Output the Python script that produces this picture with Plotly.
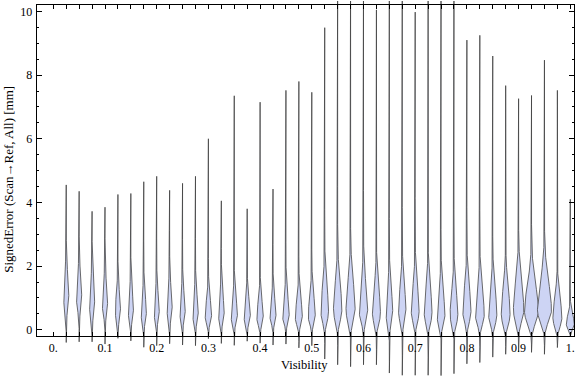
import numpy as np
import plotly.graph_objects as go

# ---------------- data ----------------
visibility = [0.025, 0.05, 0.075, 0.1, 0.125, 0.15, 0.175, 0.2, 0.225, 0.25,
              0.275, 0.3, 0.325, 0.35, 0.375, 0.4, 0.425, 0.45, 0.475, 0.5,
              0.525, 0.55, 0.575, 0.6, 0.625, 0.65, 0.675, 0.7, 0.725, 0.75,
              0.775, 0.8, 0.825, 0.85, 0.875, 0.9, 0.925, 0.95, 0.975, 1.0]

err_max = [4.55, 4.35, 3.72, 3.85, 4.25, 4.28, 4.65, 4.82, 4.38, 4.6,
           4.82, 6.0, 4.05, 7.35, 3.8, 7.15, 4.42, 7.52, 7.8, 7.46,
           9.49, 11.0, 11.0, 11.0, 10.05, 11.0, 11.0, 9.98, 11.0, 11.0,
           11.0, 9.1, 9.25, 8.6, 7.67, 7.26, 7.36, 8.47, 7.52, 4.1]

err_min = [-0.40, -0.38, -0.38, -0.45, -0.27, -0.35, -0.55, -0.50, -0.44, -0.48,
           -0.50, -0.28, -0.43, -0.49, -0.36, -0.42, -0.48, -0.45, -0.57, -0.50,
           -0.92, -1.10, -1.16, -1.10, -1.10, -1.36, -1.43, -1.43, -1.43, -1.44,
           -1.38, -1.07, -1.03, -0.86, -0.77, -0.70, -0.71, -0.77, -0.56, -0.19]

err_mode = [1.0, 0.95, 0.75, 0.75, 0.55, 0.55, 0.45, 0.5, 0.6, 0.5,
            0.45, 0.4, 0.45, 0.4, 0.4, 0.35, 0.4, 0.4, 0.35, 0.4,
            0.55, 0.6, 0.6, 0.55, 0.5, 0.5, 0.55, 0.55, 0.5, 0.4,
            0.45, 0.55, 0.45, 0.45, 0.45, 0.6, 0.55, 0.6, 0.35, 0.17]

peak_density = [2.6, 2.6, 2.6, 2.6, 2.6, 2.6, 2.6, 2.6, 2.6, 2.7,
                2.8, 3.2, 2.9, 3.2, 3.2, 3.2, 3.0, 3.3, 3.5, 3.5,
                3.8, 4.2, 4.6, 4.2, 4.0, 3.4, 3.7, 3.9, 3.9, 3.9,
                3.9, 4.1, 4.4, 4.1, 4.4, 5.2, 7.0, 7.0, 4.5, 4.0]

spread_low = [0.35, 0.33, 0.3, 0.3, 0.25, 0.25, 0.22, 0.22, 0.25, 0.22,
              0.22, 0.2, 0.22, 0.2, 0.2, 0.2, 0.2, 0.2, 0.2, 0.22,
              0.3, 0.32, 0.33, 0.3, 0.3, 0.3, 0.3, 0.3, 0.3, 0.25,
              0.28, 0.3, 0.28, 0.28, 0.28, 0.33, 0.33, 0.33, 0.25, 0.15]

spread_high = [0.7, 0.7, 0.65, 0.65, 0.6, 0.6, 0.6, 0.6, 0.65, 0.6,
               0.6, 0.55, 0.6, 0.55, 0.55, 0.55, 0.55, 0.6, 0.6, 0.65,
               0.8, 0.85, 0.9, 0.85, 0.8, 0.75, 0.8, 0.8, 0.8, 0.75,
               0.75, 0.8, 0.8, 0.8, 0.85, 0.9, 0.85, 0.9, 0.65, 0.3]

x_tick_vals = [0.0, 0.1, 0.2, 0.3, 0.4, 0.5, 0.6, 0.7, 0.8, 0.9, 1.0]
x_tick_text = ["0.", "0.1", "0.2", "0.3", "0.4", "0.5", "0.6", "0.7", "0.8", "0.9", "1."]
y_tick_vals = [0, 2, 4, 6, 8, 10]

# ---------------- styling ----------------
W, H = 576, 377
PX_PER_X = 517.0          # pixels per unit visibility
X0_PX = 53.3              # pixel of visibility 0
Y0_PX = 330.5             # pixel of error 0
PX_PER_Y = 32.0
FILL = "#cdd4f4"
EDGE = "rgba(60,60,60,0.75)"
FONT = "Liberation Serif"

fig = go.Figure()

for i, c in enumerate(visibility):
    lo, hi, m = err_min[i], err_max[i], err_mode[i]
    ys = np.unique(np.concatenate([np.linspace(lo, hi, 500),
                                   np.linspace(max(lo, m - 2), min(hi, m + 4), 400)]))
    s = np.where(ys < m, spread_low[i], spread_high[i])
    hw = peak_density[i] * np.exp(-0.5 * ((ys - m) / s) ** 2) / PX_PER_X
    xs = np.concatenate([c + hw, (c - hw)[::-1]])
    yy = np.concatenate([ys, ys[::-1]])
    fig.add_trace(go.Scatter(x=xs, y=yy, mode="lines", fill="toself",
                             fillcolor=FILL, line=dict(color=EDGE, width=1),
                             hoverinfo="skip", showlegend=False,
                             xaxis="x", yaxis="y"))

# empty trace for frame axes
fig.add_trace(go.Scatter(x=[None], y=[None], xaxis="x2", yaxis="y2",
                         showlegend=False, hoverinfo="skip"))

frame_l, frame_r, frame_t, frame_b = 36.7, 574.3, 4.5, 337.0

all_x_ticks = [round(0.025 * k, 3) for k in range(41)]
all_x_text = []
for v in all_x_ticks:
    lab = ""
    for tv, tt in zip(x_tick_vals, x_tick_text):
        if abs(tv - v) < 1e-9:
            lab = tt
    all_x_text.append(lab)

fig.update_layout(
    width=W, height=H,
    margin=dict(l=0, r=0, t=0, b=0),
    paper_bgcolor="white", plot_bgcolor="rgba(0,0,0,0)",
    showlegend=False,
    xaxis=dict(domain=[0, 1], anchor="y", visible=False,
               range=[(0 - X0_PX) / PX_PER_X, (W - X0_PX) / PX_PER_X]),
    yaxis=dict(domain=[0, 1], anchor="x", visible=False,
               range=[(Y0_PX - H) / PX_PER_Y, Y0_PX / PX_PER_Y]),
    xaxis2=dict(domain=[frame_l / W, frame_r / W], anchor="y2",
                range=[(frame_l - X0_PX) / PX_PER_X, (frame_r - X0_PX) / PX_PER_X],
                tickvals=all_x_ticks, ticktext=all_x_text,
                ticks="inside", ticklen=4, tickcolor="black", tickwidth=1,
                showline=True, linecolor="black", linewidth=1, mirror="allticks",
                showgrid=False, zeroline=False,
                tickfont=dict(family=FONT, size=12, color="black")),
    yaxis2=dict(domain=[(H - frame_b) / H, (H - frame_t) / H], anchor="x2",
                range=[(Y0_PX - frame_b) / PX_PER_Y, (Y0_PX - frame_t) / PX_PER_Y],
                tickvals=y_tick_vals, ticks="inside", ticklen=5,
                tickcolor="black", tickwidth=1,
                minor=dict(dtick=0.5, tick0=0, ticks="inside", ticklen=2.5,
                           tickcolor="black", tickwidth=1),
                showline=True, linecolor="black", linewidth=1, mirror="allticks",
                showgrid=False, zeroline=False, ticklabelstandoff=1,
                tickfont=dict(family=FONT, size=12, color="black")),
    annotations=[
        dict(text="SignedError (Scan\u2192Ref, All) [mm]", xref="paper", yref="paper",
             x=8.3 / W, y=(H - 179.5) / H, textangle=-90, showarrow=False,
             font=dict(family=FONT, size=13, color="black"),
             xanchor="center", yanchor="middle"),
        dict(text="Visibility", xref="paper", yref="paper",
             x=304 / W, y=(H - 366) / H, showarrow=False,
             font=dict(family=FONT, size=12.5, color="black"),
             xanchor="center", yanchor="middle"),
    ],
)

fig.write_html("out.html",
               config={"displayModeBar": False, "staticPlot": True},
               post_script="document.body.style.margin='0';document.body.style.overflow='hidden';")
